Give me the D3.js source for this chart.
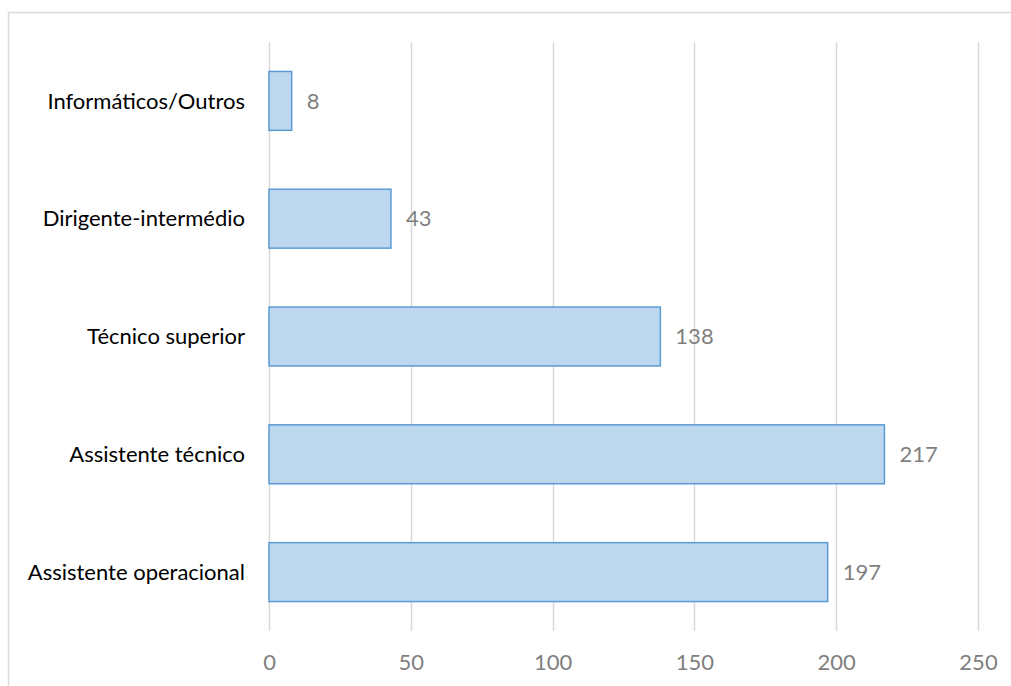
<!DOCTYPE html>
<html>
<head>
<meta charset="utf-8">
<script src="https://cdn.jsdelivr.net/npm/d3@7"></script>
<style>
  html, body { margin: 0; padding: 0; background: #fff; }
  svg { display: block; font-family: Lato, "Open Sans", sans-serif; }
</style>
</head>
<body>
<svg id="chart" width="1011" height="686"></svg>
<script>
// Staff by professional group
const categories = ["Informáticos/Outros", "Dirigente-intermédio", "Técnico superior", "Assistente técnico", "Assistente operacional"];
const values = [8, 43, 138, 217, 197];
const tickValues = [0, 50, 100, 150, 200, 250];

const svg = d3.select("#chart");
const W = 1011, H = 686;
const plot = { left: 269, right: 978, top: 42, bottom: 631 };
const FONT = 22;

// Chart area frame (top and left edges)
svg.append("line").attr("x1", 8.5).attr("x2", W).attr("y1", 12.5).attr("y2", 12.5)
  .attr("stroke", "#d9d9d9").attr("stroke-width", 1.5);
svg.append("line").attr("x1", 8.5).attr("x2", 8.5).attr("y1", 12.5).attr("y2", H)
  .attr("stroke", "#d9d9d9").attr("stroke-width", 1.5);

const x = d3.scaleLinear().domain([0, 250]).range([plot.left, plot.right]);
const y = d3.scaleBand().domain(categories).range([plot.top, plot.bottom]).paddingInner(0.5).paddingOuter(0.25);

// Vertical gridlines
svg.append("g").selectAll("line").data(tickValues).join("line")
  .attr("x1", d => Math.round(x(d)) + 0.5).attr("x2", d => Math.round(x(d)) + 0.5)
  .attr("y1", plot.top).attr("y2", plot.bottom)
  .attr("stroke", "#d9d9d9").attr("stroke-width", 1.5);

// Bars
svg.append("g").selectAll("rect").data(categories).join("rect")
  .attr("x", x(0))
  .attr("y", d => y(d))
  .attr("width", (d, i) => x(values[i]) - x(0))
  .attr("height", y.bandwidth())
  .attr("fill", "#bdd7ee")
  .attr("stroke", "#5b9bd5")
  .attr("stroke-width", 1.5);

// Value labels
svg.append("g").selectAll("text").data(categories).join("text")
  .attr("x", (d, i) => x(values[i]) + 15)
  .attr("y", d => y(d) + y.bandwidth() / 2)
  .attr("dy", "0.35em")
  .attr("fill", "#7f7f7f")
  .attr("font-size", FONT)
  .text((d, i) => values[i]);

// Category axis labels
svg.append("g").selectAll("text").data(categories).join("text")
  .attr("x", plot.left - 24)
  .attr("y", d => y(d) + y.bandwidth() / 2)
  .attr("dy", "0.35em")
  .attr("text-anchor", "end")
  .attr("fill", "#000")
  .attr("font-size", FONT)
  .text(d => d);

// Value axis tick labels
const xAxis = svg.append("g")
  .attr("transform", `translate(0,${plot.bottom})`)
  .call(d3.axisBottom(x).tickValues(tickValues).tickSize(0).tickPadding(23));
xAxis.select(".domain").remove();
xAxis.selectAll("text")
  .attr("fill", "#7f7f7f")
  .attr("font-size", FONT)
  .attr("font-family", "Lato, 'Open Sans', sans-serif");
</script>
</body>
</html>
